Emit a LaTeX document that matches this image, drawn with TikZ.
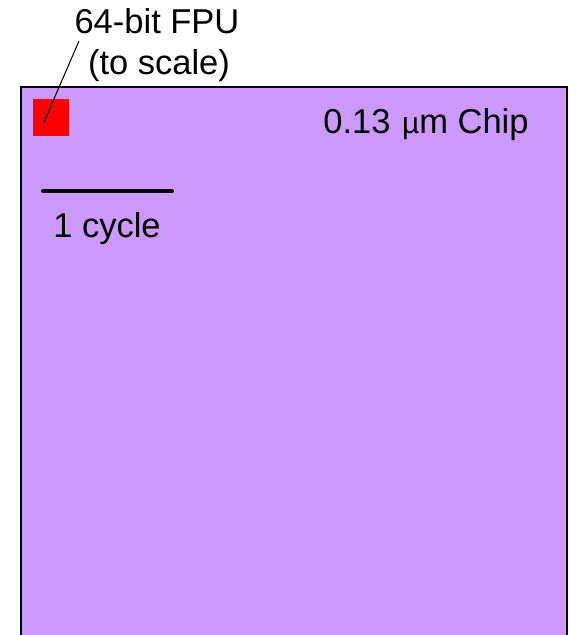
\documentclass[tikz,border=0pt]{standalone}
\usepackage{fontspec}
\setmainfont{Liberation Sans}
\definecolor{chipfill}{HTML}{CC99FF}

\begin{document}
\begin{tikzpicture}
    [x=1pt,y=-1pt,every node/.style={font=\fontsize{34.5}{38}\selectfont,inner sep=0pt}]
    \useasboundingbox (0,0) rectangle (569,635);
    \clip (0,0) rectangle (569,635);
    % the die, runs off the bottom
    \draw[fill=chipfill,line width=1.5pt] (21,87) rectangle (567,660);
    \node[fill=red,minimum width=36pt,minimum height=37pt] (fpu) at (51,117.5) {};
    \node[anchor=base] (fpulbl) at (157,33) {64-bit FPU};
    \node[anchor=base] (scalelbl) at (159,74) {(to scale)};
    \node[anchor=base] (chiplbl) at (426,133) {0.13\,\,{\fontsize{30}{34}\selectfont\textmu}m Chip};
    % one cycle of wire
    \coordinate (bar1) at (43,191);
    \coordinate (bar2) at (172,191);
    \draw[line width=4pt,line cap=round] (bar1) -- (bar2);
    \node[anchor=base] (cyclbl) at (107,237) {1 cycle};
    \coordinate (lead) at (79,41);
    \coordinate (fputip) at (44,122);
    \draw[line width=1pt] (lead) -- (fputip);
\end{tikzpicture}
\end{document}
